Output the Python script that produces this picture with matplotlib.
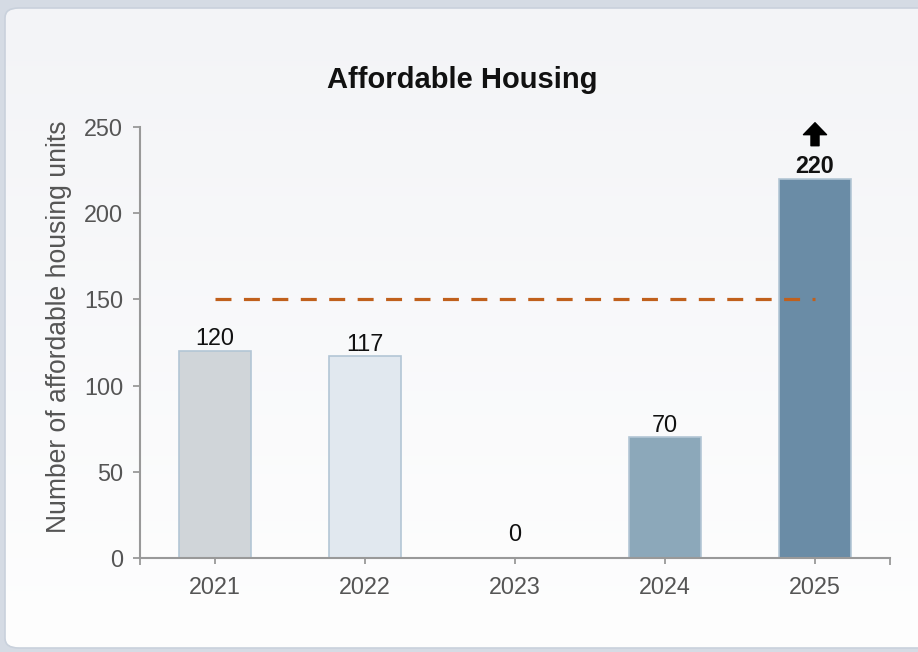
import matplotlib
matplotlib.use("Agg")
import matplotlib.pyplot as plt
import numpy as np
from matplotlib.patches import FancyBboxPatch
from matplotlib.transforms import offset_copy

plt.rcParams['font.family'] = ['Liberation Sans', 'DejaVu Sans']

# Data
years = ["2021", "2022", "2023", "2024", "2025"]
units = [120, 117, 0, 70, 220]
target = 150
bar_colors = ["#d0d5d9", "#e1e8ef", "#c9d4de", "#8ca8ba", "#6a8ca6"]
y_ticks = [0, 50, 100, 150, 200, 250]

W, H = 918, 652
fig = plt.figure(figsize=(W / 100, H / 100), dpi=100)
fig.patch.set_facecolor("#d5dbe4")

# Card background with a soft vertical gradient
card = FancyBboxPatch((5 / W, 4 / H), (W + 20) / W, (H - 8 - 4) / H,
                      boxstyle="round,pad=0,rounding_size=0.015",
                      transform=fig.transFigure, facecolor="none",
                      edgecolor="#c9d1dc", linewidth=1.2, zorder=1)
bg_ax = fig.add_axes([0, 0, 1, 1], zorder=0)
bg_ax.set_axis_off()
grad = np.linspace(0, 1, 256).reshape(-1, 1)
top_c = np.array([0xf3, 0xf4, 0xf7]) / 255
bot_c = np.array([0xfe, 0xfe, 0xfe]) / 255
img = top_c[None, None, :] * (1 - grad[..., None]) + bot_c[None, None, :] * grad[..., None]
im = bg_ax.imshow(img, extent=[0, 1, 0, 1], aspect="auto",
                  transform=fig.transFigure, origin="upper")
im.set_clip_path(card)
fig.patches.append(card)

ax = fig.add_axes([140 / W, (H - 558) / H, 750 / W, (558 - 127) / H], zorder=2)
ax.patch.set_alpha(0)

x = np.arange(len(years))
bars = ax.bar(x, units, width=0.48, color=bar_colors, edgecolor="#b3c6d5",
              linewidth=1.2, zorder=2)

ax.plot([x[0], x[-1]], [target, target], color="#c0601c", linewidth=2.3,
        linestyle=(0, (5.0, 3.9)), zorder=3)

for xi, v in zip(x, units):
    bold = v == max(units)
    off = 0.5 if v > 0 else 8.5
    ax.annotate(f"{v}", xy=(xi, v), xytext=(0, off), textcoords="offset points",
                ha="center", va="bottom", fontsize=16.8,
                fontweight="bold" if bold else "normal", color="#111111")

# Upward arrow above the top bar
i_max = int(np.argmax(units))
tip_tr = offset_copy(ax.transData, fig=fig, x=0, y=56, units="dots")
tail_tr = offset_copy(ax.transData, fig=fig, x=0, y=33, units="dots")
ax.annotate("", xy=(x[i_max], units[i_max]), xycoords=tip_tr,
            xytext=(x[i_max], units[i_max]), textcoords=tail_tr,
            arrowprops=dict(arrowstyle="simple,head_length=0.86,head_width=1.66,tail_width=0.58",
                            color="black", shrinkA=0, shrinkB=0, mutation_scale=10),
            annotation_clip=False)

ax.set_xlim(-0.5, len(years) - 0.5)
ax.set_ylim(0, 250)
ax.set_xticks(x)
ax.set_xticklabels(years)
ax.set_xticks([-0.5, len(years) - 0.5], minor=True)
ax.set_yticks(y_ticks)

for s in ["top", "right"]:
    ax.spines[s].set_visible(False)
for s in ["left", "bottom"]:
    ax.spines[s].set_color("#999999")
    ax.spines[s].set_linewidth(1.5)
ax.spines["left"].set_bounds(0, 250)

ax.tick_params(axis="both", which="major", labelsize=16.8, labelcolor="#555555",
               color="#999999", width=1.3)
ax.tick_params(axis="y", length=5, pad=7)
ax.tick_params(axis="x", length=4, pad=9)
ax.tick_params(axis="x", which="minor", length=5, color="#999999", width=1.3)

ax.set_ylabel("Number of affordable housing units", fontsize=19.1,
              color="#555555", labelpad=9)
ax.yaxis.set_label_coords(-0.091, 0.536)
fig.text(462 / W, (H - 80) / H, "Affordable Housing", ha="center", va="center",
         fontsize=21, fontweight="bold", color="#111111")

fig.savefig("out.png", dpi=100, facecolor=fig.get_facecolor())
